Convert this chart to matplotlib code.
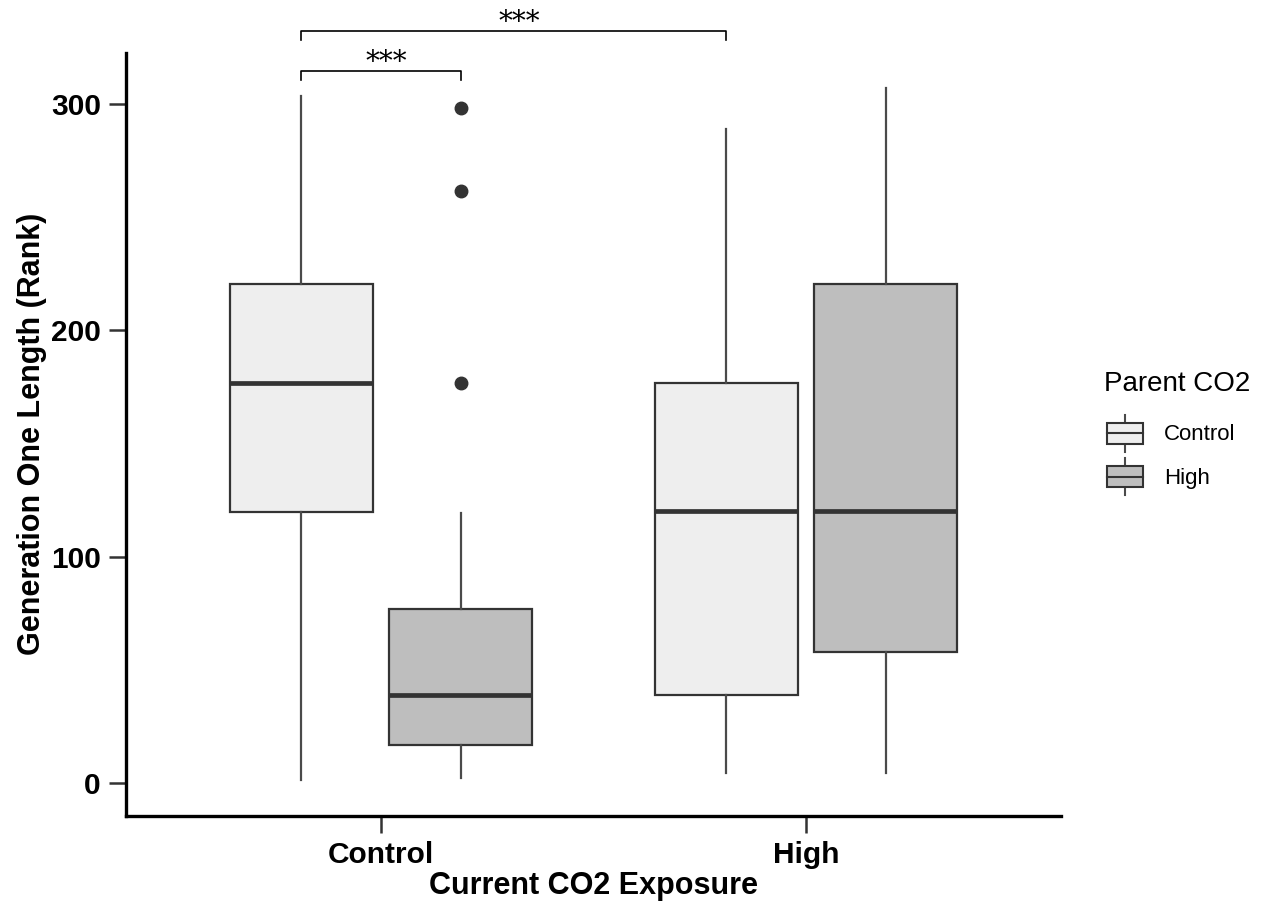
import matplotlib
matplotlib.use("Agg")
import matplotlib.pyplot as plt
from matplotlib.legend_handler import HandlerBase
from matplotlib.patches import Rectangle, Patch
from matplotlib.lines import Line2D

plt.rcParams["font.family"] = ["Liberation Sans", "DejaVu Sans"]

# Current CO2 exposure groups (x axis) and parental CO2 treatment (fill)
exposure = ["Control", "High"]
parent = ["Control", "High"]
parent_fill = ["#EEEEEE", "#BEBEBE"]

# Box summaries, indexed [exposure][parent]
whisker_low = [[1.2, 2.1], [4.2, 4.2]]
q1 = [[119.7, 16.7], [38.8, 57.7]]
median = [[176.6, 38.8], [120.0, 120.0]]
q3 = [[220.5, 76.8], [176.6, 220.4]]
whisker_high = [[303.5, 119.4], [289.0, 307.2]]
outliers = [[[], [176.6, 261.7, 298.5]], [[], []]]

y_ticks = [0, 100, 200, 300]

# Pairwise comparisons: ((exposure, parent), (exposure, parent), label)
comparisons = [((0, 0), (0, 1), "***"), ((0, 0), (1, 0), "***")]
bracket_levels = [314.7, 332.4]

dodge = 0.1875
box_width = 0.3375
edge = "#333333"
whisker_col = "#4a4a4a"


def box_pos(e, p):
    return e + 1 + (-dodge if p == 0 else dodge)


fig = plt.figure(figsize=(12.65, 9.07), dpi=100)
ax = fig.add_axes([126 / 1265, 1 - 815.7 / 907, 935 / 1265, 763 / 907])

for e in range(len(exposure)):
    for p in range(len(parent)):
        stats = [{
            "whislo": whisker_low[e][p],
            "q1": q1[e][p],
            "med": median[e][p],
            "q3": q3[e][p],
            "whishi": whisker_high[e][p],
            "fliers": outliers[e][p],
        }]
        ax.bxp(
            stats,
            positions=[box_pos(e, p)],
            widths=box_width,
            patch_artist=True,
            showcaps=False,
            manage_ticks=False,
            boxprops=dict(facecolor=parent_fill[p], edgecolor=edge, linewidth=1.6),
            medianprops=dict(color=edge, linewidth=3.4, solid_capstyle="butt"),
            whiskerprops=dict(color=whisker_col, linewidth=1.6),
            flierprops=dict(marker="o", markerfacecolor=edge, markeredgecolor=edge,
                            markersize=9),
        )

ax.set_xlim(0.4, 2.6)
ax.set_ylim(-14.6, 322.8)
ax.set_xticks([1, 2])
ax.set_xticklabels(exposure)
ax.set_yticks(y_ticks)

for side in ("top", "right"):
    ax.spines[side].set_visible(False)
for side in ("left", "bottom"):
    ax.spines[side].set_linewidth(2.4)
    ax.spines[side].set_color("black")

ax.tick_params(axis="both", length=12, width=1.8, color="#333333",
               labelsize=21.5, labelcolor="black", pad=6)
for lab in ax.get_xticklabels() + ax.get_yticklabels():
    lab.set_fontweight("bold")

ax.set_xlabel("Current CO2 Exposure", fontsize=22, fontweight="bold", labelpad=2)
ax.set_ylabel("Generation One Length (Rank)", fontsize=22, fontweight="bold", labelpad=3)

# Significance brackets above the boxes
for (a, b, label), level in zip(comparisons, bracket_levels):
    x1 = box_pos(*a)
    x2 = box_pos(*b)
    drop = 4.0
    ax.plot([x1, x1, x2, x2], [level - drop, level, level, level - drop],
            color="black", linewidth=1.2, clip_on=False)
    ax.text((x1 + x2) / 2 + 0.012, level + 0.5, label, ha="center", va="baseline",
            fontsize=20, family=["DejaVu Serif"], clip_on=False)


class BoxKey(HandlerBase):
    """Legend key drawn as a miniature boxplot."""

    def create_artists(self, legend, orig_handle, xdescent, ydescent,
                       width, height, fontsize, trans):
        x0 = -xdescent
        y0 = -ydescent
        cx = x0 + width / 2
        cy = y0 + height / 2
        wh = height * 0.925
        bh = height * 0.525
        whisk = Line2D([cx, cx], [cy - wh / 2, cy + wh / 2], color=whisker_col,
                       linewidth=1.5, transform=trans)
        rect = Rectangle((x0, cy - bh / 2), width, bh,
                         facecolor=orig_handle.get_facecolor(),
                         edgecolor=edge, linewidth=1.5, transform=trans)
        med = Line2D([x0, x0 + width], [cy, cy], color=edge,
                     linewidth=1.5, transform=trans)
        return [whisk, rect, med]


handles = [Patch(facecolor=c) for c in parent_fill]
leg = fig.legend(
    handles, parent,
    handler_map={Patch: BoxKey()},
    loc="center left",
    bbox_to_anchor=(1107 / 1265, 1 - 455 / 907),
    bbox_transform=fig.transFigure,
    frameon=False,
    fontsize=16,
    handlelength=1.62,
    handleheight=2.39,
    handletextpad=0.95,
    labelspacing=0.18,
    borderpad=0,
    borderaxespad=0,
)
fig.text(1104 / 1265, 1 - 384 / 907, "Parent CO2", fontsize=20,
         ha="left", va="center")

fig.savefig("out.png", dpi=100)
